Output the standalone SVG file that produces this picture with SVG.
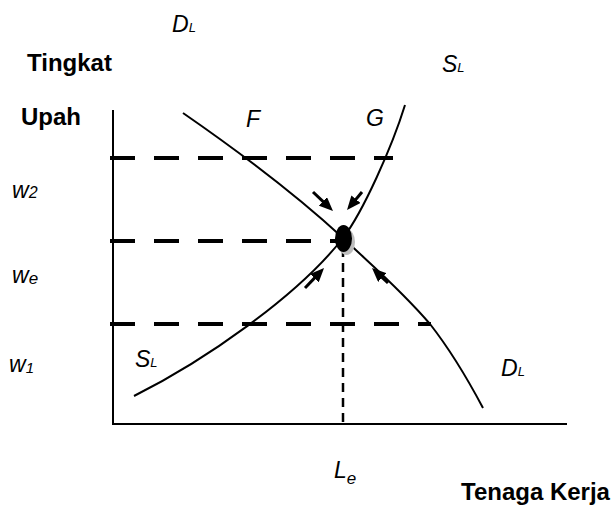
<svg xmlns="http://www.w3.org/2000/svg" width="616" height="508" viewBox="0 0 616 508">
<style>
.axis{stroke:#000;stroke-width:2;fill:none}
.curve{stroke:#000;stroke-width:2;fill:none}
.dash{stroke:#000;stroke-width:4;stroke-dasharray:25 19;fill:none}
.vdash{stroke:#000;stroke-width:2.5;stroke-dasharray:9 6;fill:none}
.arr{stroke:#000;stroke-width:3;fill:none;marker-end:url(#ah)}
.b{font-family:"Liberation Sans",Arial,sans-serif;font-weight:bold;font-size:24px;fill:#000}
.i{font-family:"Liberation Sans",Arial,sans-serif;font-style:italic;font-size:23px;fill:#000}
</style>
<defs>
<marker id="ah" markerUnits="userSpaceOnUse" markerWidth="14" markerHeight="12" refX="7" refY="6" orient="auto">
<path d="M0,0 L14,6 L0,12 z" fill="#000"/>
</marker>
</defs>
<g id="axes">
<line class="axis" x1="113" y1="110" x2="113" y2="425"/>
<line class="axis" x1="112" y1="424" x2="567" y2="424"/>
</g>
<g id="connectors">
<line class="dash" x1="110" y1="158" x2="393" y2="158"/>
<line class="dash" x1="110" y1="241" x2="340" y2="241"/>
<line class="dash" x1="110" y1="324" x2="431" y2="324"/>
<line class="vdash" x1="343" y1="248" x2="343" y2="424"/>
<path id="demand" class="curve" d="M183,113 C238,151 293,192 343,238 C372,265.5 401,290 430,324 C448,347 465,374 483,408"/>
<path id="supply" class="curve" d="M134,396 C204,361 298,296 343,238 C363,212 392,147 405,105"/>
<line class="arr" x1="313" y1="192" x2="327.9" y2="206.2"/>
<line class="arr" x1="362" y1="192" x2="351.5" y2="204.6"/>
<line class="arr" x1="305" y1="288" x2="319.2" y2="273.1"/>
<line class="arr" x1="388" y1="283" x2="377.1" y2="272.8"/>
</g>
<g id="equilibrium">
<ellipse cx="346.5" cy="242" rx="8.5" ry="13" fill="#bdbdbd"/>
<ellipse cx="343.5" cy="238.5" rx="8.5" ry="13.5" fill="#000"/>
</g>
<g id="labels">
<text class="i" x="172" y="32">D<tspan font-size="13">L</tspan></text>
<text class="b" x="27" y="71">Tingkat</text>
<text class="i" x="442" y="72">S<tspan font-size="13">L</tspan></text>
<text class="b" x="21" y="125">Upah</text>
<text class="i" x="246" y="127">F</text>
<text class="i" x="366" y="126">G</text>
<text class="i" x="12" y="198" font-size="20">w<tspan font-size="16">2</tspan></text>
<text class="i" x="12" y="283" font-size="25">w<tspan font-size="17" dy="1">e</tspan></text>
<text class="i" x="9" y="372" font-size="25">w<tspan font-size="15" dy="1">1</tspan></text>
<text class="i" x="135" y="367">S<tspan font-size="13">L</tspan></text>
<text class="i" x="501" y="376">D<tspan font-size="13">L</tspan></text>
<text class="i" x="334" y="478">L<tspan font-size="17" dy="6">e</tspan></text>
<text class="b" x="461" y="500">Tenaga Kerja</text>
</g>
</svg>
